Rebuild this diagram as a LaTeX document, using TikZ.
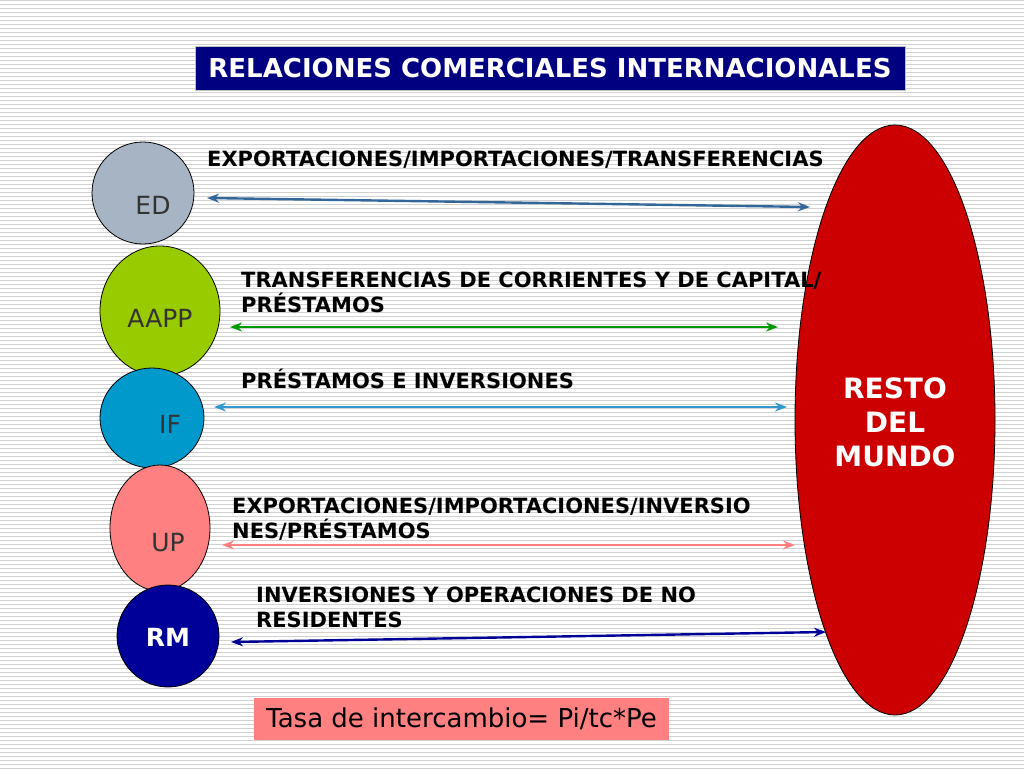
\documentclass[tikz,border=0pt]{standalone}
\usepackage{fontspec}
\setmainfont{DejaVu Sans}
\usetikzlibrary{arrows.meta}
\definecolor{navy}{HTML}{000080}
\definecolor{edc}{HTML}{A7B4C4}
\definecolor{aappc}{HTML}{99CC00}
\definecolor{ifc}{HTML}{0099CC}
\definecolor{upc}{HTML}{FF8080}
\definecolor{rmc}{HTML}{000099}
\definecolor{rdm}{HTML}{CC0000}
\definecolor{a1}{HTML}{336699}
\definecolor{a2}{HTML}{009900}
\definecolor{a3}{HTML}{3399CC}
\tikzset{
  blob/.style={ellipse, draw=black, line width=0.8pt, inner sep=0pt},
  lbl/.style={anchor=north west, align=left, inner sep=0pt, font=\bfseries\fontsize{21}{25}\selectfont},
  conn/.style={line width=2.4pt, {Stealth[length=12pt,width=9pt]}-{Stealth[length=12pt,width=9pt]}},
  ctext/.style={font=\fontsize{25}{30}\selectfont}
}
\usetikzlibrary{shapes.geometric}
\begin{document}
\begin{tikzpicture}[x=1pt,y=-1pt]
\useasboundingbox (0,0) rectangle (1024,768);
\fill[white] (0,0) rectangle (1024,768);
\foreach \y in {0,4,...,768} \draw[black!18,line width=0.5pt] (0,\y) -- (1024,\y);
\node[fill=navy, draw=black!25, line width=1pt, minimum width=710pt, minimum height=43pt, text=white, font=\bfseries\fontsize{26}{30}\selectfont] (title) at (550,68.5) {RELACIONES COMERCIALES INTERNACIONALES};
\node[blob, fill=edc, minimum width=102pt, minimum height=102pt] (ed) at (143,193) {};
\node[ctext, text=black!80] at (153,205) {ED};
\node[blob, fill=aappc, minimum width=120pt, minimum height=130pt] (aapp) at (160,311) {};
\node[ctext, text=black!80] at (160,318) {AAPP};
\node[blob, fill=ifc, minimum width=104pt, minimum height=100pt] (if) at (152,418) {};
\node[ctext, text=black!80] at (170,424) {IF};
\node[blob, fill=upc, minimum width=100pt, minimum height=126pt] (up) at (160,528) {};
\node[ctext, text=black!80] at (168,543) {UP};
\node[blob, fill=rmc, minimum width=102pt, minimum height=102pt] (rm) at (168,636) {};
\node[ctext, text=white, font=\bfseries\fontsize{25}{30}\selectfont] at (168,637) {RM};
\node[blob, fill=rdm, minimum width=200pt, minimum height=590pt] (rest) at (895,420) {};
\node[text=white, align=center, font=\bfseries\fontsize{28}{34}\selectfont] at (895,422) {RESTO\\DEL\\MUNDO};
\coordinate (e1) at (207,198); \coordinate (f1) at (810,207);
\coordinate (e2) at (230,327); \coordinate (f2) at (778,327);
\coordinate (e3) at (214,407); \coordinate (f3) at (787,407);
\coordinate (e4) at (222,545); \coordinate (f4) at (795,545);
\coordinate (e5) at (231,642); \coordinate (f5) at (826,632);
\draw[conn, a1] (e1) -- (f1);
\draw[conn, a2] (e2) -- (f2);
\draw[conn, a3] (e3) -- (f3);
\draw[conn, upc] (e4) -- (f4);
\draw[conn, rmc] (e5) -- (f5);
\node[lbl] at (207,151) {EXPORTACIONES/IMPORTACIONES/TRANSFERENCIAS};
\node[lbl] at (241,272) {TRANSFERENCIAS DE CORRIENTES Y DE CAPITAL/\\PRÉSTAMOS};
\node[lbl] at (241,369) {PRÉSTAMOS E INVERSIONES};
\node[lbl] at (232,498) {EXPORTACIONES/IMPORTACIONES/INVERSIO\\NES/PRÉSTAMOS};
\node[lbl] at (256,587) {INVERSIONES Y OPERACIONES DE NO\\RESIDENTES};
\node[fill=upc, minimum width=415pt, minimum height=42pt, font=\fontsize{26}{30}\selectfont] (tasa) at (461.5,719) {Tasa de intercambio= Pi/tc*Pe};
\end{tikzpicture}
\end{document}
